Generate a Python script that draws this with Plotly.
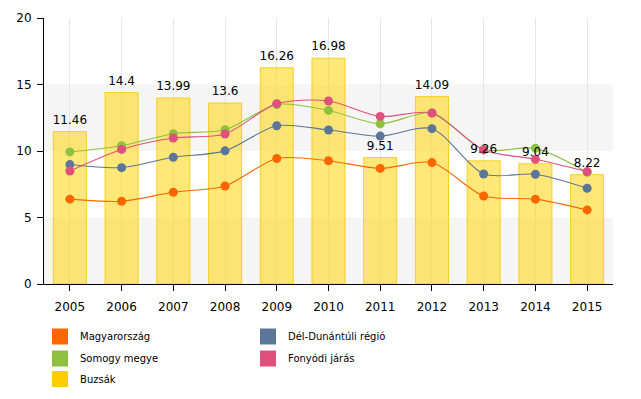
import plotly.graph_objects as go

years = [2005, 2006, 2007, 2008, 2009, 2010, 2011, 2012, 2013, 2014, 2015]
buzsak = [11.46, 14.4, 13.99, 13.6, 16.26, 16.98, 9.51, 14.09, 9.26, 9.04, 8.22]
magyarorszag = [6.38, 6.22, 6.9, 7.37, 9.44, 9.27, 8.69, 9.13, 6.62, 6.38, 5.57]
del_dunantul = [8.98, 8.75, 9.53, 10.01, 11.9, 11.58, 11.12, 11.68, 8.27, 8.25, 7.2]
somogy = [9.93, 10.4, 11.3, 11.6, 13.5, 13.05, 12.05, 12.85, 10.1, 10.2, 8.4]
fonyod = [8.5, 10.12, 10.98, 11.28, 13.56, 13.76, 12.6, 12.86, 10.08, 9.38, 8.45]
y_ticks = [0, 5, 10, 15, 20]

C_ORANGE = "#FF6600"
C_BLUE = "#5B7699"
C_GREEN = "#8DC13F"
C_PINK = "#E0507D"
C_GOLD = "#FFCC00"

fig = go.Figure()

# background bands
for lo, hi in [(0, 5), (10, 15)]:
    fig.add_shape(type="rect", xref="paper", yref="y", x0=0, x1=1, y0=lo, y1=hi,
                  fillcolor="#F5F5F5", line_width=0, layer="below")

fig.add_trace(go.Bar(
    x=years, y=buzsak, width=0.64, name="Buzsák", showlegend=False,
    marker=dict(color="rgba(255,214,10,0.55)", line=dict(color="rgba(245,200,0,0.8)", width=1)),
    hoverinfo="x+y",
))

for name, vals, col in [("Magyarország", magyarorszag, C_ORANGE),
                        ("Dél-Dunántúli régió", del_dunantul, C_BLUE),
                        ("Somogy megye", somogy, C_GREEN),
                        ("Fonyódi járás", fonyod, C_PINK)]:
    fig.add_trace(go.Scatter(
        x=years, y=vals, name=name, mode="lines+markers", showlegend=False,
        line=dict(color=col, width=1.1, shape="spline", smoothing=0.8),
        marker=dict(color=col, size=9),
        cliponaxis=False,
    ))

# value labels above the bars
fig.add_trace(go.Scatter(
    x=years, y=buzsak, mode="markers+text", showlegend=False,
    text=[f"{v:g}" for v in buzsak], textposition="top center",
    textfont=dict(family="DejaVu Sans", size=12, color="#000000"),
    marker=dict(size=6, color="rgba(0,0,0,0)"),
    cliponaxis=False, hoverinfo="skip",
))

# legend proxies (squares), one legend each for exact placement
legend_items = [("Magyarország", C_ORANGE, "legend"),
                ("Dél-Dunántúli régió", C_BLUE, "legend2"),
                ("Somogy megye", C_GREEN, "legend3"),
                ("Fonyódi járás", C_PINK, "legend4"),
                ("Buzsák", C_GOLD, "legend5")]
for name, col, lg in legend_items:
    fig.add_trace(go.Scatter(
        x=[None], y=[None], name=name, mode="markers",
        marker=dict(symbol="square", size=16, color=col),
        showlegend=True, legend=lg,
    ))

col_x = [-0.007, 0.3585]
row_y = [-0.1429, -0.2256, -0.3026]
pos = {"legend": (col_x[0], row_y[0]), "legend2": (col_x[1], row_y[0]),
       "legend3": (col_x[0], row_y[1]), "legend4": (col_x[1], row_y[1]),
       "legend5": (col_x[0], row_y[2])}
legend_layout = {}
for lg, (lx, ly) in pos.items():
    legend_layout[lg] = dict(x=lx, xanchor="left", y=ly, yanchor="top",
                             orientation="h", bgcolor="rgba(0,0,0,0)",
                             font=dict(family="DejaVu Sans", size=10, color="#000000"),
                             itemwidth=30)

fig.update_layout(
    width=633, height=391,
    margin=dict(l=36, r=28, t=10, b=115, autoexpand=False),
    paper_bgcolor="white", plot_bgcolor="white",
    font=dict(family="DejaVu Sans", size=12, color="#000000"),
    xaxis=dict(range=[2004.5, 2015.5], tickvals=years, ticktext=[str(y) for y in years],
               showgrid=True, gridcolor="#E6E6E6", gridwidth=1,
               showline=True, linecolor="#000000", linewidth=1,
               ticks="outside", ticklen=6, tickcolor="#000000", zeroline=False,
               ticklabelstandoff=6),
    yaxis=dict(range=[0, 20], tickvals=y_ticks, showgrid=False,
               showline=True, linecolor="#000000", linewidth=1,
               ticks="outside", ticklen=6, tickcolor="#000000", zeroline=False,
               ticklabelstandoff=3),
    hovermode="closest",
    **legend_layout,
)

fig.write_html("out.html")
